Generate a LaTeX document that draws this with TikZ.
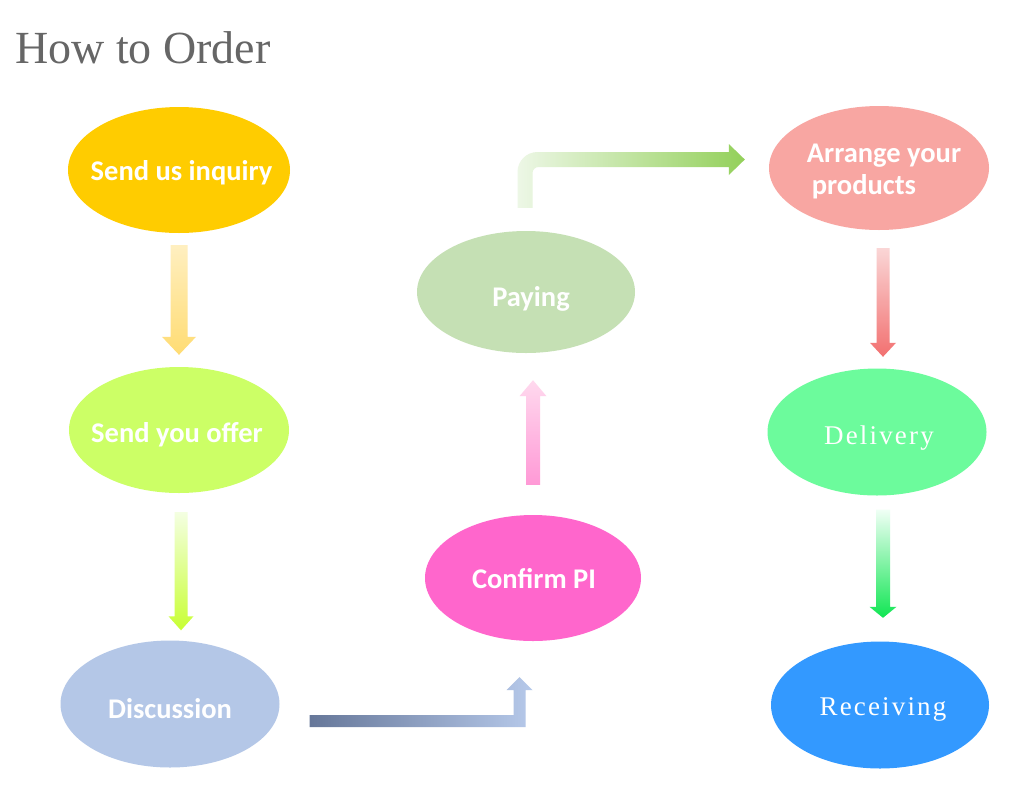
\documentclass[tikz,border=0pt]{standalone}
\usepackage{fontspec}
\setmainfont{Carlito}
\newfontfamily\spacedserif[LetterSpace=8]{Liberation Serif}
\newfontfamily\titleserif{Liberation Serif}
\usetikzlibrary{shapes.geometric,calc}

\definecolor{titlegray}{HTML}{666666}
\definecolor{c1}{HTML}{FFCC00}
\definecolor{c2}{HTML}{CCFF66}
\definecolor{c3}{HTML}{B4C7E7}
\definecolor{c4}{HTML}{FF66CC}
\definecolor{c5}{HTML}{C5E0B4}
\definecolor{c6}{HTML}{F8A6A2}
\definecolor{c7}{HTML}{6CFB9C}
\definecolor{c8}{HTML}{3399FF}
% arrow gradient colours
\definecolor{aAt}{HTML}{FFEFC0}
\definecolor{aAb}{HTML}{FFDC73}
\definecolor{aBt}{HTML}{F4FFE2}
\definecolor{aBb}{HTML}{C8FF33}
\definecolor{aCt}{HTML}{FFD9EE}
\definecolor{aCb}{HTML}{FF99D6}
\definecolor{aDt}{HTML}{FAD6D6}
\definecolor{aDb}{HTML}{F27070}
\definecolor{aEt}{HTML}{F0FFF5}
\definecolor{aEb}{HTML}{10E653}
\definecolor{aFl}{HTML}{667799}
\definecolor{aFr}{HTML}{B6C9EA}
\definecolor{aGl}{HTML}{EDF7E6}
\definecolor{aGr}{HTML}{93D05A}

\newcommand\lblfont{\fontsize{28.5}{32}\selectfont\bfseries}
\newcommand\seriflbl{\spacedserif\fontsize{27}{30}\selectfont}

% vertical block arrows: #1 start, #2 tip, #3 shaft half width, #4 head half width, #5 head length, #6 top colour, #7 bottom colour
\newcommand\blockdown[7]{\shade[top color=#6,bottom color=#7] let \p1=#1, \p2=#2 in
  ({\x1-#3pt},\y1) -- ({\x1+#3pt},\y1) -- ({\x1+#3pt},{\y2+#5pt}) -- ({\x1+#4pt},{\y2+#5pt})
  -- (\x1,\y2) -- ({\x1-#4pt},{\y2+#5pt}) -- ({\x1-#3pt},{\y2+#5pt}) -- cycle;}
\newcommand\blockup[7]{\shade[top color=#6,bottom color=#7] let \p1=#1, \p2=#2 in
  ({\x1-#3pt},\y1) -- ({\x1+#3pt},\y1) -- ({\x1+#3pt},{\y2-#5pt}) -- ({\x1+#4pt},{\y2-#5pt})
  -- (\x1,\y2) -- ({\x1-#4pt},{\y2-#5pt}) -- ({\x1-#3pt},{\y2-#5pt}) -- cycle;}

\tikzset{
  ell/.style={ellipse, draw=none, inner sep=0pt},
  lbl/.style={text=white, inner sep=0pt, font=\lblfont, text height=18pt, text depth=0pt},
  mlbl/.style={text=white, inner sep=0pt, font=\lblfont, align=left},
  slbl/.style={text=white, inner sep=0pt, font=\seriflbl, text height=18pt, text depth=0pt},
}

\begin{document}
\begin{tikzpicture}[x=1pt,y=-1pt]
\useasboundingbox[fill=white] (0,0) rectangle (1022,801);

\node[anchor=base west, inner sep=0pt, text=titlegray,
      font=\titleserif\fontsize{46}{50}\selectfont] (title) at (15,63) {How to Order};

\node[ell, fill=c1, minimum width=222pt, minimum height=126pt,
  label={[lbl,xshift=2.5pt,yshift=-1pt]center:Send us inquiry}] (n1) at (179,170) {};
\node[ell, fill=c2, minimum width=220pt, minimum height=126pt,
  label={[lbl,xshift=-2pt,yshift=-3pt]center:Send you offer}] (n2) at (179,430) {};
\node[ell, fill=c3, minimum width=219pt, minimum height=127pt,
  label={[lbl,yshift=-5pt]center:Discussion}] (n3) at (170,704) {};
\node[ell, fill=c4, minimum width=216pt, minimum height=126pt,
  label={[lbl,xshift=1pt,yshift=-1pt]center:Confirm PI}] (n4) at (533,578) {};
\node[ell, fill=c5, minimum width=218pt, minimum height=122pt,
  label={[lbl,xshift=5pt,yshift=-5pt]center:Paying}] (n5) at (526,292) {};
\node[ell, fill=c6, minimum width=220pt, minimum height=124pt,
  label={[mlbl,xshift=5pt,yshift=-3pt]center:Arrange your\\\hspace*{5pt}products}] (n6) at (879,168) {};
\node[ell, fill=c7, minimum width=219pt, minimum height=127pt,
  label={[slbl,xshift=2pt,yshift=-3pt]center:Delivery}] (n7) at (877,432) {};
\node[ell, fill=c8, minimum width=218pt, minimum height=127pt,
  label={[slbl,xshift=3pt,yshift=-1pt]center:Receiving}] (n8) at (880,705) {};

% straight block arrows
\blockdown{($(n1.south)+(0,12)$)}{($(n2.north)+(0,-12)$)}{8.5}{17}{18}{aAt}{aAb}
\blockdown{($(n2.south)+(2,19)$)}{($(n3.north)+(0,-10)$)}{6.5}{12.5}{14}{aBt}{aBb}
\blockup{($(n4.north)+(0,-30)$)}{($(n5.south)+(0,27)$)}{7}{13.5}{16}{aCt}{aCb}
\blockdown{($(n6.south)+(4,18)$)}{($(n7.north)+(0,-11.5)$)}{6.5}{13}{14}{aDt}{aDb}
\blockdown{($(n7.south)+(6,14)$)}{($(n8.north)+(0,-23.5)$)}{7}{13.5}{11}{aEt}{aEb}

% bent arrow Discussion -> Confirm PI
\shade[left color=aFl, right color=aFr] let \p1=($(n3.east)+(30,17)$), \p2=($(n4.south)+(-13.5,36)$) in
  (\x1,{\y1+6pt}) -- ({\x2-6pt},{\y1+6pt}) -- ({\x2-6pt},{\y2-13pt}) -- ({\x2-13pt},{\y2-13pt})
  -- (\x2,\y2) -- ({\x2+13pt},{\y2-13pt}) -- ({\x2+6pt},{\y2-13pt}) -- ({\x2+6pt},{\y1-6pt})
  -- (\x1,{\y1-6pt}) -- cycle;

% bent arrow Paying -> Arrange your products
\shade[left color=aGl, right color=aGr] let \p1=($(n5.north)+(-1,-23)$), \p2=($(n6.west)+(-24,-8.5)$) in
  ({\x1-7.5pt},\y1) [rounded corners=20pt] -- ({\x1-7.5pt},{\y2+7.5pt}) -- ({\x1+40pt},{\y2+7.5pt})
  [sharp corners] -- ({\x2-16pt},{\y2+7.5pt}) -- ({\x2-16pt},{\y2+15.5pt}) -- (\x2,\y2)
  -- ({\x2-16pt},{\y2-15.5pt}) -- ({\x2-16pt},{\y2-7.5pt}) -- ({\x1+40pt},{\y2-7.5pt})
  [rounded corners=6pt] -- ({\x1+7.5pt},{\y2-7.5pt}) -- ({\x1+7.5pt},{\y1+10pt})
  [sharp corners] -- ({\x1+7.5pt},\y1) -- cycle;
\end{tikzpicture}
\end{document}
